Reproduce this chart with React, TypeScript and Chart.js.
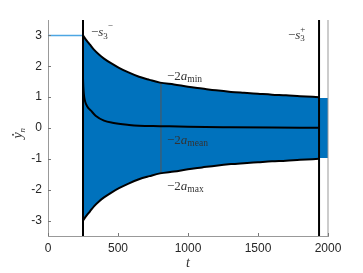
import React, { useEffect, useRef } from 'react';
import { Chart, registerables } from 'chart.js';

Chart.register(...registerables);

// ---- data ----
const tEnvelope = [250, 275, 300, 330, 364, 400, 450, 507, 575, 650, 725, 800, 900, 1000, 1100, 1200, 1307, 1400, 1500, 1600, 1700, 1800, 1936];
const upperEnvelope = [3.0, 2.84, 2.7, 2.53, 2.38, 2.25, 2.1, 1.95, 1.8, 1.66, 1.56, 1.47, 1.41, 1.34, 1.28, 1.22, 1.17, 1.14, 1.11, 1.08, 1.06, 1.03, 1.0];
const lowerEnvelope = [-3.0, -2.84, -2.7, -2.53, -2.38, -2.25, -2.1, -1.95, -1.8, -1.66, -1.56, -1.47, -1.41, -1.34, -1.28, -1.22, -1.17, -1.14, -1.11, -1.08, -1.06, -1.03, -1.0];
const tTail = [1937, 2004];
const tailUpper = [0.97, 0.97];
const tailLower = [-0.97, -0.97];
const tMean = [250, 252, 256, 262, 272, 287, 305, 340, 400, 460, 579, 650, 800, 1000, 1300, 1600, 1936];
const meanValues = [1.6, 1.35, 1.1, 0.92, 0.77, 0.65, 0.57, 0.4, 0.24, 0.17, 0.1, 0.075, 0.06, 0.04, 0.025, 0.015, 0.01];
const tPre = [0, 250];
const preValues = [3, 3];
const tSwitchMinus = 250;
const tSwitchPlus = 1936;
const tMarker = 807;
const markerRange = [-1.47, 1.47];
const tEnd = 2000;
const fullRange = [-3.5, 3.5];
const xTicks = [0, 500, 1000, 1500, 2000];
const yTicks = [-3, -2, -1, 0, 1, 2, 3];

const zip = (xs: number[], ys: number[]) => xs.map((x, i) => ({ x, y: ys[i] }));
const vline = (x: number, r: number[]) => [{ x, y: r[0] }, { x, y: r[1] }];

type Part = { text: string; size: number; italic?: boolean; dy?: number; stack?: boolean };

function drawMath(ctx: CanvasRenderingContext2D, x: number, y: number, parts: Part[], color = '#333') {
  let cx = x;
  let lastX = x;
  ctx.fillStyle = color;
  ctx.textBaseline = 'alphabetic';
  ctx.textAlign = 'left';
  for (const p of parts) {
    ctx.font = `${p.italic ? 'italic ' : ''}${p.size}px "Liberation Serif"`;
    const px = p.stack ? lastX : cx;
    ctx.fillText(p.text, px, y + (p.dy || 0));
    const w = ctx.measureText(p.text).width;
    if (p.stack) {
      cx = Math.max(cx, px + w);
    } else {
      lastX = px;
      cx = px + w;
    }
  }
  return cx;
}

const labelPlugin = {
  id: 'labels',
  afterDraw(chart: any) {
    const { ctx, chartArea, scales } = chart;
    const xs = scales.x;
    const ys = scales.y;
    ctx.save();
    // inward tick marks
    ctx.strokeStyle = '#777';
    ctx.lineWidth = 1;
    for (const v of yTicks) {
      const py = Math.round(ys.getPixelForValue(v)) + 0.5;
      ctx.beginPath();
      ctx.moveTo(chartArea.left, py);
      ctx.lineTo(chartArea.left + 3, py);
      ctx.stroke();
    }
    for (const v of xTicks) {
      const px = Math.round(xs.getPixelForValue(v)) + 0.5;
      ctx.beginPath();
      ctx.moveTo(px, chartArea.bottom);
      ctx.lineTo(px, chartArea.bottom - 3);
      ctx.stroke();
    }

    const P = (t: number, v: number) => [xs.getPixelForValue(t), ys.getPixelForValue(v)];
    let [x, y] = P(307, 2.98);
    drawMath(ctx, x, y, [
      { text: '\u2212', size: 13 },
      { text: 's', size: 13, italic: true },
      { text: '3', size: 9, dy: 3 },
      { text: '\u2212', size: 9, dy: -8 },
    ]);
    [x, y] = P(1714, 2.88);
    drawMath(ctx, x, y, [
      { text: '\u2212', size: 13 },
      { text: 's', size: 13, italic: true },
      { text: '3', size: 9, dy: 2 },
      { text: '+', size: 9, dy: -7, stack: true },
    ]);
    [x, y] = P(850, 1.56);
    drawMath(ctx, x, y, [
      { text: '\u22122', size: 13 },
      { text: 'a', size: 13, italic: true },
      { text: 'min', size: 9.5, dy: 2 },
    ]);
    [x, y] = P(850, -0.52);
    drawMath(ctx, x, y, [
      { text: '\u22122', size: 13 },
      { text: 'a', size: 13, italic: true },
      { text: 'mean', size: 9.5, dy: 2 },
    ]);
    [x, y] = P(850, -2.01);
    drawMath(ctx, x, y, [
      { text: '\u22122', size: 13 },
      { text: 'a', size: 13, italic: true },
      { text: 'max', size: 9.5, dy: 2 },
    ]);

    // x axis title
    ctx.font = 'italic 14px "Liberation Serif"';
    ctx.fillStyle = '#333';
    ctx.textAlign = 'center';
    ctx.fillText('t', (chartArea.left + chartArea.right) / 2, chartArea.bottom + 31);

    // y axis title
    ctx.save();
    ctx.translate(22, (chartArea.top + chartArea.bottom) / 2 + 5);
    ctx.rotate(-Math.PI / 2);
    ctx.font = 'italic 14px "Liberation Serif"';
    const wy = ctx.measureText('y').width;
    const total = wy + 5;
    const sx = -total / 2;
    ctx.textAlign = 'left';
    ctx.fillText('y', sx, 0);
    ctx.beginPath();
    ctx.arc(sx + wy * 0.62, -9, 0.9, 0, Math.PI * 2);
    ctx.fill();
    ctx.font = 'italic 9px "Liberation Serif"';
    ctx.fillText('n', sx + wy, 2.5);
    ctx.restore();

    ctx.restore();
  },
};

export default function App() {
  const ref = useRef<HTMLCanvasElement>(null);
  useEffect(() => {
    if (!ref.current) return;
    const line = (data: any[], color: string, width: number, order: number, extra: any = {}) => ({
      data,
      borderColor: color,
      borderWidth: width,
      pointRadius: 0,
      fill: false,
      order,
      tension: 0,
      ...extra,
    });
    const chart = new Chart(ref.current, {
      type: 'line',
      data: {
        datasets: [
          line(zip([...tEnvelope, ...tTail], [...upperEnvelope, ...tailUpper]), 'rgba(0,0,0,0)', 0, 10, {
            fill: '+1',
            backgroundColor: '#0072BD',
          }),
          line(zip([...tEnvelope, ...tTail], [...lowerEnvelope, ...tailLower]), 'rgba(0,0,0,0)', 0, 9),
          line(zip(tEnvelope, upperEnvelope), '#000', 2, 2, { cubicInterpolationMode: 'monotone' }),
          line(zip(tEnvelope, lowerEnvelope), '#000', 2, 2, { cubicInterpolationMode: 'monotone' }),
          line(zip(tMean, meanValues), '#000', 2, 2, { cubicInterpolationMode: 'monotone' }),
          line(zip(tPre, preValues), '#4DA6E3', 1.5, 3),
          line(vline(tMarker, markerRange), '#555', 1, 3),
          line(vline(tSwitchMinus, fullRange), '#000', 2, 1),
          line(vline(tSwitchPlus, fullRange), '#000', 2, 1),
          line(vline(tEnd, fullRange), '#999', 1, 1, { clip: 4 }),
        ],
      },
      options: {
        animation: false,
        responsive: true,
        maintainAspectRatio: false,
        layout: { padding: { top: 20, right: 35, left: 0, bottom: 0 } },
        plugins: { legend: { display: false }, tooltip: { enabled: false } },
        scales: {
          x: {
            type: 'linear',
            min: 0,
            max: 2000,
            grid: { display: false, drawTicks: false },
            border: { display: true, color: '#999', width: 1 },
            afterBuildTicks: (s: any) => {
              s.ticks = xTicks.map((v) => ({ value: v }));
            },
            afterFit: (s: any) => {
              s.height = 37;
            },
            ticks: {
              autoSkip: false,
              maxRotation: 0,
              padding: 5,
              color: '#262626',
              font: { family: '"Liberation Sans"', size: 12 },
              callback: (v: any) => String(v),
            },
          },
          y: {
            type: 'linear',
            min: -3.5,
            max: 3.5,
            grid: { display: false, drawTicks: false },
            border: { display: true, color: '#999', width: 1 },
            afterBuildTicks: (s: any) => {
              s.ticks = yTicks.map((v) => ({ value: v }));
            },
            afterFit: (s: any) => {
              s.width = 48;
            },
            ticks: {
              autoSkip: false,
              padding: 6,
              color: '#262626',
              font: { family: '"Liberation Sans"', size: 12 },
              callback: (v: any) => String(v),
            },
          },
        },
      },
      plugins: [labelPlugin],
    });
    return () => chart.destroy();
  }, []);
  return (
    <div style={{ position: 'fixed', left: 0, top: 0, width: 363, height: 273, background: '#fff' }}>
      <canvas ref={ref} />
    </div>
  );
}
